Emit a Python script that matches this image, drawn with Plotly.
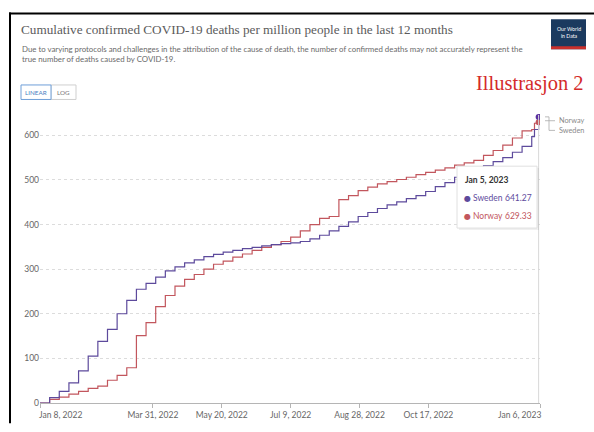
import plotly.graph_objects as go
import pandas as pd

# ---------------- data ----------------
week_dates = [d.strftime("%Y-%m-%d") for d in pd.date_range("2022-01-08", periods=52, freq="7D")]
dates = week_dates + ["2023-01-02", "2023-01-05"]

sweden = [0, 12, 26, 45, 72, 105, 138, 165, 200, 230, 255, 268, 282, 296, 305, 314, 321, 328,
          333, 338, 342, 346, 349, 352, 355, 357, 359, 362, 368, 376, 386, 396, 406, 418, 427,
          436, 444, 451, 458, 465, 474, 485, 494, 506, 516, 524, 532, 541, 550, 562, 575, 597,
          613, 641.27]
norway = [0, 8, 13, 20, 26, 33, 38, 51, 62, 79, 151, 180, 216, 241, 262, 277, 288, 300, 311,
          318, 327, 334, 342, 349, 355, 362, 372, 386, 400, 414, 418, 456, 465, 476, 484, 491,
          496, 501, 506, 512, 517, 522, 527, 533, 538, 544, 555, 566, 578, 594, 610, 613,
          627, 629.33]

tick_dates = ["2022-01-08", "2022-03-31", "2022-05-20", "2022-07-09", "2022-08-28",
              "2022-10-17", "2023-01-06"]
tick_labels = ["Jan 8, 2022", "Mar 31, 2022", "May 20, 2022", "Jul 9, 2022", "Aug 28, 2022",
               "Oct 17, 2022", "Jan 6, 2023"]
y_ticks = [0, 100, 200, 300, 400, 500, 600]

title = "Cumulative confirmed COVID-19 deaths per million people in the last 12 months"
subtitle = ("Due to varying protocols and challenges in the attribution of the cause of death, the number of "
            "confirmed deaths may not accurately represent the<br>true number of deaths caused by COVID-19.")
tooltip_date = "Jan 5, 2023"

# ---------------- styling ----------------
C_SWE = "#5d4a9c"
C_NOR = "#c2565d"
W, H = 594, 432
L, R, T, B = 40, 54, 113, 19
PW, PH = W - L - R, H - T - B


def px(x):
    return (x - L) / PW


def py(y):
    return (H - B - y) / PH


fig = go.Figure()
fig.add_trace(go.Scatter(x=dates, y=norway, mode="lines", line=dict(color=C_NOR, width=1.2, shape="hv"),
                         name="Norway", showlegend=False))
fig.add_trace(go.Scatter(x=dates, y=sweden, mode="lines", line=dict(color=C_SWE, width=1.2, shape="hv"),
                         name="Sweden", showlegend=False))
fig.add_trace(go.Scatter(x=[dates[-1]], y=[norway[-1]], mode="markers",
                         marker=dict(color=C_NOR, size=6), showlegend=False))
fig.add_trace(go.Scatter(x=[dates[-1]], y=[sweden[-1]], mode="markers",
                         marker=dict(color="#5a2fa0", size=6), showlegend=False))

shapes = []
# hover line
shapes.append(dict(type="line", xref="x", yref="paper", x0=dates[-1], x1=dates[-1], y0=0, y1=py(115),
                   line=dict(color="#d8d8d8", width=1)))
# frame
shapes.append(dict(type="line", xref="paper", yref="paper", x0=px(9), x1=px(W + 2), y0=py(10), y1=py(10),
                   line=dict(color="black", width=2)))
shapes.append(dict(type="line", xref="paper", yref="paper", x0=px(10), x1=px(10), y0=py(9), y1=py(H + 2),
                   line=dict(color="black", width=2)))
# logo
shapes.append(dict(type="rect", xref="paper", yref="paper", x0=px(551), x1=px(586), y0=py(47), y1=py(16),
                   fillcolor="#1b3a5f", line=dict(width=0)))
shapes.append(dict(type="rect", xref="paper", yref="paper", x0=px(551), x1=px(586), y0=py(47), y1=py(44),
                   fillcolor="#c9302c", line=dict(width=0)))
# linear / log buttons
shapes.append(dict(type="rect", xref="paper", yref="paper", x0=px(51), x1=px(76), y0=py(99), y1=py(84),
                   fillcolor="white", line=dict(color="#cfcfcf", width=1)))
shapes.append(dict(type="rect", xref="paper", yref="paper", x0=px(21), x1=px(51), y0=py(99), y1=py(84),
                   fillcolor="white", line=dict(color="#6f9fd8", width=1)))
# end-label connectors
shapes.append(dict(type="path", xref="paper", yref="paper",
                   path=f"M {px(545)},{py(121)} L {px(555)},{py(121)}",
                   line=dict(color="#aaaaaa", width=0.8)))
shapes.append(dict(type="path", xref="paper", yref="paper",
                   path=f"M {px(545)},{py(117)} L {px(549)},{py(117)} L {px(549)},{py(131)} L {px(555)},{py(131)}",
                   line=dict(color="#aaaaaa", width=0.8)))
# tooltip box (shadow + box)
shapes.append(dict(type="rect", xref="paper", yref="paper", x0=px(459), x1=px(539), y0=py(234), y1=py(170),
                   fillcolor="rgba(0,0,0,0.06)", line=dict(width=0)))
shapes.append(dict(type="rect", xref="paper", yref="paper", x0=px(457), x1=px(537), y0=py(232), y1=py(168),
                   fillcolor="white", line=dict(color="#e0e0e0", width=1)))

ann = []
ann.append(dict(text=title, x=px(19), y=py(27), xref="paper", yref="paper", xanchor="left", yanchor="middle",
                showarrow=False, font=dict(family="Liberation Serif", size=13.2, color="#5b5b5b")))
ann.append(dict(text=subtitle, x=px(20), y=py(52), xref="paper", yref="paper", xanchor="left", yanchor="middle",
                align="left", showarrow=False, font=dict(family="Lato", size=7.85, color="#6a6a6a")))
ann.append(dict(text="Illustrasjon 2", x=px(530), y=py(82), xref="paper", yref="paper", xanchor="center",
                yanchor="middle", showarrow=False, font=dict(family="Liberation Serif", size=20.5, color="#d42a2a")))
ann.append(dict(text="Our World<br>in Data", x=px(568.5), y=py(29.5), xref="paper", yref="paper", xanchor="center",
                yanchor="middle", showarrow=False, font=dict(family="Lato", size=5.2, color="white")))
ann.append(dict(text="LINEAR", x=px(36), y=py(91.5), xref="paper", yref="paper", xanchor="center",
                yanchor="middle", showarrow=False, font=dict(family="Lato", size=6.3, color="#4a7fc1")))
ann.append(dict(text="LOG", x=px(63.5), y=py(91.5), xref="paper", yref="paper", xanchor="center",
                yanchor="middle", showarrow=False, font=dict(family="Lato", size=6.3, color="#777777")))
ann.append(dict(text="Norway", x=px(557), y=py(121), xref="paper", yref="paper", xanchor="left",
                yanchor="middle", showarrow=False, font=dict(family="Lato", size=7.3, color="#8a8a8a")))
ann.append(dict(text="Sweden", x=px(557), y=py(131), xref="paper", yref="paper", xanchor="left",
                yanchor="middle", showarrow=False, font=dict(family="Lato", size=7.3, color="#8a8a8a")))
# x-axis end labels (aligned to plot edges)
ann.append(dict(text=tick_labels[0], x=px(37), y=py(425), xref="paper", yref="paper", xanchor="left",
                yanchor="middle", showarrow=False, font=dict(family="Lato", size=8.5, color="#666666")))
ann.append(dict(text=tick_labels[-1], x=px(543), y=py(425), xref="paper", yref="paper", xanchor="right",
                yanchor="middle", showarrow=False, font=dict(family="Lato", size=8.5, color="#666666")))
# tooltip
ann.append(dict(text=f"<b>{tooltip_date}</b>", x=px(463), y=py(182), xref="paper", yref="paper",
                xanchor="left", yanchor="middle", showarrow=False,
                font=dict(family="Lato", size=8.5, color="#333333")))
for i, (nm, val, col) in enumerate([("Sweden", sweden[-1], C_SWE), ("Norway", norway[-1], C_NOR)]):
    yy = 201 + i * 19
    ann.append(dict(text="●", x=px(462), y=py(yy), xref="paper", yref="paper", xanchor="left",
                    yanchor="middle", showarrow=False, font=dict(family="DejaVu Sans", size=8, color=col)))
    ann.append(dict(text=nm, x=px(471), y=py(yy), xref="paper", yref="paper", xanchor="left",
                    yanchor="middle", showarrow=False, font=dict(family="Lato", size=8.5, color=col)))
    ann.append(dict(text=f"{val:.2f}", x=px(534), y=py(yy), xref="paper", yref="paper", xanchor="right",
                    yanchor="middle", showarrow=False, font=dict(family="Lato", size=8.5, color=col)))

fig.update_layout(
    width=W, height=H, autosize=False,
    margin=dict(l=L, r=R, t=T, b=B),
    paper_bgcolor="white", plot_bgcolor="white",
    hovermode=False,
    shapes=shapes, annotations=ann,
    xaxis=dict(type="date", range=["2022-01-08", "2023-01-06"], tickvals=tick_dates,
               ticktext=[""] + tick_labels[1:-1] + [""], showgrid=False, showline=True,
               linecolor="#b5b5b5", linewidth=1, ticks="outside", ticklen=4, tickcolor="#b5b5b5",
               tickfont=dict(family="Lato", size=8.5, color="#666666"), zeroline=False),
    yaxis=dict(range=[0, 650], tickvals=y_ticks, showgrid=True, gridcolor="#dcdcdc", griddash="dot",
               gridwidth=1, zeroline=False, showline=False, ticks="",
               tickfont=dict(family="Lato", size=8.5, color="#666666")),
)

fig.write_html("out.html", config={"displayModeBar": False},
               post_script="document.body.style.margin='0';document.body.style.overflow='hidden';")
